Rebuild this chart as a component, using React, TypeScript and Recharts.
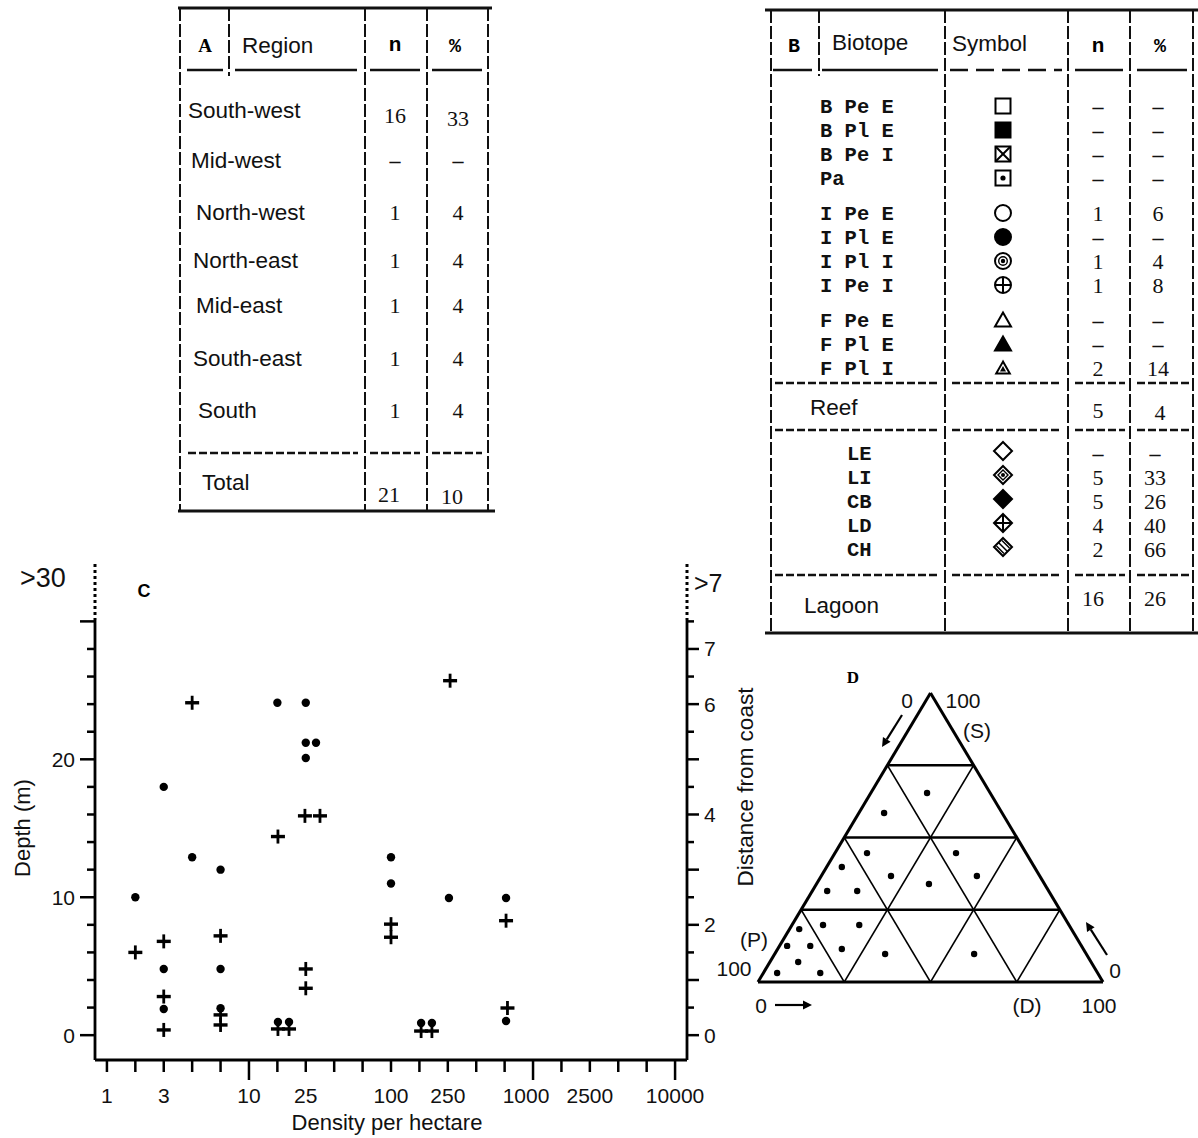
import React from 'react';
import { ScatterChart, Scatter, XAxis, YAxis, ReferenceLine } from 'recharts';

const SANS = '"Liberation Sans", Arial, sans-serif';
const SERIF = '"Liberation Serif", "Times New Roman", serif';
const MONO = '"Liberation Mono", "Courier New", monospace';

// ---------------- Table A data ----------------
const regionNames = ['South-west', 'Mid-west', 'North-west', 'North-east', 'Mid-east', 'South-east', 'South'];
const regionN = ['16', '–', '1', '1', '1', '1', '1'];
const regionPct = ['33', '–', '4', '4', '4', '4', '4'];
const regionTotal = ['Total', '21', '10'];

// ---------------- Table B data ----------------
const biotopeCodes = ['B Pe E', 'B Pl E', 'B Pe I', 'Pa', 'I Pe E', 'I Pl E', 'I Pl I', 'I Pe I', 'F Pe E', 'F Pl E', 'F Pl I'];
const biotopeSymbols = ['sqOpen', 'sqFill', 'sqCross', 'sqDot', 'ciOpen', 'ciFill', 'ciDot', 'ciPlus', 'trOpen', 'trFill', 'trDot'];
const biotopeN = ['–', '–', '–', '–', '1', '–', '1', '1', '–', '–', '2'];
const biotopePct = ['–', '–', '–', '–', '6', '–', '4', '8', '–', '–', '14'];
const reefRow = ['Reef', '5', '4'];
const lagoonCodes = ['LE', 'LI', 'CB', 'LD', 'CH'];
const lagoonSymbols = ['diOpen', 'diDot', 'diFill', 'diPlus', 'diHatch'];
const lagoonN = ['–', '5', '5', '4', '2'];
const lagoonPct = ['–', '33', '26', '40', '66'];
const lagoonRow = ['Lagoon', '16', '26'];

// ---------------- Chart C data ----------------
// x = position of the density class on the (ordinal) density axis
const densityClassIndex = [0, 2, 5, 7, 10, 12, 15, 17, 20];
const densityClassLabel = ['1', '3', '10', '25', '100', '250', '1000', '2500', '10000'];
const densityLongTicks = [5, 15, 20];
const depthLabels = [0, 10, 20];
const distanceLabels = [0, 2, 4, 6, 7];

const dotX = [1, 2, 2, 2, 3, 4, 4, 4, 6, 7, 7, 7.36, 7, 6.02, 6.41, 10, 10, 11.06, 11.44, 12.04, 14.05, 14.05];
const dotDepth = [10.0, 18.0, 4.8, 1.9, 12.9, 12.0, 4.8, 1.95, 24.1, 24.1, 21.2, 21.2, 20.1, 0.95, 0.95, 12.9, 11.0, 0.88, 0.88, 9.95, 9.95, 1.03];

const plusX = [1, 2, 2, 2, 3, 4, 4, 4, 6.02, 6.02, 6.41, 7, 7, 6.97, 7.5, 10, 10, 11.06, 11.44, 12.08, 14.05, 14.1];
const plusDepth = [6.0, 6.8, 2.8, 0.38, 24.1, 7.2, 1.47, 0.74, 14.4, 0.45, 0.45, 4.8, 3.4, 15.9, 15.9, 8.05, 7.1, 0.3, 0.3, 25.7, 8.3, 1.97];

// ---------------- Chart D data (ternary, %) ----------------
const triS = [65.4, 58.5, 44.6, 44.6, 39.8, 36.7, 36.7, 33.9, 31.5, 31.5, 18.3, 19.7, 19.7, 12.5, 12.5, 11.4, 6.9, 9.7, 9.7, 3.1, 3.1];
const triD = [16.3, 7.3, 9.3, 35.1, 4.4, 20.2, 45.1, 32.6, 4.3, 13.0, 2.8, 9.0, 19.5, 2.2, 8.9, 18.6, 8.2, 32.0, 57.8, 4.0, 16.5];
const triGrid = [25, 50, 75];

const dotData = dotX.map((x, i) => ({ x, y: dotDepth[i] }));
const plusData = plusX.map((x, i) => ({ x, y: plusDepth[i] }));
const triData = triS.map((s, i) => ({ x: triD[i] + s / 2, y: s }));
const xTicks = Array.from({ length: 21 }, (_, i) => i);
const leftTicks = Array.from({ length: 16 }, (_, i) => i * 2);
const rightTicks = Array.from({ length: 16 }, (_, i) => i * 0.5);

// ---------------- helpers ----------------
const VDash = ({ x, y1, y2 }: any) => (
  <line x1={x} x2={x} y1={y1} y2={y2} stroke="#111" strokeWidth={2} strokeDasharray="13 3" />
);
const HSeg = ({ x1, x2, y, dash, w }: any) => (
  <line x1={x1} x2={x2} y1={y} y2={y} stroke="#111" strokeWidth={w || 2.5} strokeDasharray={dash} />
);

function BioSymbol({ kind, cx, cy }: any) {
  const st = { stroke: '#000', strokeWidth: 2, fill: 'none' } as any;
  const h = 7.5;
  const sq = (fill?: string) => <rect x={cx - h} y={cy - h} width={2 * h} height={2 * h} {...st} fill={fill || 'none'} />;
  const ci = (fill?: string) => <circle cx={cx} cy={cy} r={8} {...st} fill={fill || 'none'} />;
  const tri = (fill?: string, k = 1) => (
    <polygon points={`${cx},${cy - 7.5 * k} ${cx - 8 * k},${cy + 6.5 * k} ${cx + 8 * k},${cy + 6.5 * k}`} {...st} fill={fill || 'none'} />
  );
  const di = (fill?: string) => (
    <polygon points={`${cx},${cy - 9} ${cx + 9},${cy} ${cx},${cy + 9} ${cx - 9},${cy}`} {...st} fill={fill || 'none'} />
  );
  switch (kind) {
    case 'sqOpen': return sq();
    case 'sqFill': return sq('#000');
    case 'sqCross': return <g>{sq()}<line x1={cx - h} y1={cy - h} x2={cx + h} y2={cy + h} {...st} /><line x1={cx + h} y1={cy - h} x2={cx - h} y2={cy + h} {...st} /></g>;
    case 'sqDot': return <g>{sq()}<circle cx={cx} cy={cy} r={2.6} fill="#000" /></g>;
    case 'ciOpen': return ci();
    case 'ciFill': return ci('#000');
    case 'ciDot': return <g>{ci()}<circle cx={cx} cy={cy} r={4.3} {...st} strokeWidth={1.4} /><circle cx={cx} cy={cy} r={2.2} fill="#000" /></g>;
    case 'ciPlus': return <g>{ci()}<line x1={cx - 8} x2={cx + 8} y1={cy} y2={cy} {...st} /><line x1={cx} x2={cx} y1={cy - 8} y2={cy + 8} {...st} /></g>;
    case 'trOpen': return tri();
    case 'trFill': return tri('#000');
    case 'trDot': return <g>{tri(undefined, 0.85)}<polygon points={`${cx},${cy - 2} ${cx - 3},${cy + 3.5} ${cx + 3},${cy + 3.5}`} fill="#000" /></g>;
    case 'diOpen': return di();
    case 'diDot': return <g>{di()}<polygon points={`${cx},${cy - 5} ${cx + 5},${cy} ${cx},${cy + 5} ${cx - 5},${cy}`} {...st} strokeWidth={1.4} /><circle cx={cx} cy={cy} r={2} fill="#000" /></g>;
    case 'diFill': return di('#000');
    case 'diPlus': return <g>{di()}<line x1={cx - 9} x2={cx + 9} y1={cy} y2={cy} {...st} /><line x1={cx} x2={cx} y1={cy - 9} y2={cy + 9} {...st} /></g>;
    case 'diHatch': return <g>{di()}<line x1={cx - 4.5} y1={cy - 4.5} x2={cx + 4.5} y2={cy + 4.5} {...st} strokeWidth={1.5} /><line x1={cx - 6.5} y1={cy - 1} x2={cx + 1} y2={cy + 6.5} {...st} strokeWidth={1.5} /><line x1={cx - 1} y1={cy - 6.5} x2={cx + 6.5} y2={cy + 1} {...st} strokeWidth={1.5} /></g>;
    default: return null;
  }
}

// ---------------- Table A ----------------
const regionRowY = [110, 160, 212, 260, 305, 358, 410];
const regionIndent = [188, 191, 196, 193, 196, 193, 198];

function TableA() {
  const txt = { fontFamily: SANS, fontSize: 22.5, fill: '#111' } as any;
  const num = { fontFamily: SERIF, fontSize: 22, fill: '#111', textAnchor: 'middle' } as any;
  const dash = { fontFamily: SERIF, fontSize: 22, fill: '#111', textAnchor: 'middle', fontWeight: 'bold' } as any;
  return (
    <g>
      <HSeg x1={178} x2={492} y={8} w={3} />
      <HSeg x1={178} x2={495} y={511} w={3.2} />
      <VDash x={180} y1={8} y2={511} />
      <VDash x={229} y1={8} y2={76} />
      <VDash x={365} y1={8} y2={511} />
      <VDash x={427} y1={8} y2={511} />
      <VDash x={488} y1={8} y2={511} />
      <HSeg x1={187} x2={223} y={70} />
      <HSeg x1={235} x2={357} y={70} />
      <HSeg x1={370} x2={420} y={70} />
      <HSeg x1={432} x2={482} y={70} />
      <HSeg x1={188} x2={358} y={453} dash="8 3" />
      <HSeg x1={370} x2={420} y={453} dash="8 3" />
      <HSeg x1={432} x2={482} y={453} dash="8 3" />
      <text x={205} y={52} textAnchor="middle" fontFamily={SERIF} fontWeight="bold" fontSize={19}>A</text>
      <text x={242} y={53} {...txt}>Region</text>
      <text x={395} y={51} textAnchor="middle" fontFamily={MONO} fontWeight="bold" fontSize={21}>n</text>
      <text x={455} y={52} textAnchor="middle" fontFamily={MONO} fontWeight="bold" fontSize={20}>%</text>
      {regionNames.map((r, i) => (
        <g key={r}>
          <text x={regionIndent[i]} y={regionRowY[i] + 8} {...txt}>{r}</text>
          <text x={395} y={regionRowY[i] + (i === 0 ? 13 : 8)} {...(regionN[i] === '–' ? dash : num)}>{regionN[i]}</text>
          <text x={458} y={regionRowY[i] + (i === 0 ? 16 : 8)} {...(regionPct[i] === '–' ? dash : num)}>{regionPct[i]}</text>
        </g>
      ))}
      <text x={202} y={490} {...txt}>{regionTotal[0]}</text>
      <text x={389} y={502} {...num}>{regionTotal[1]}</text>
      <text x={452} y={504} {...num}>{regionTotal[2]}</text>
    </g>
  );
}

// ---------------- Table B ----------------
const biotopeRowY = [106, 130, 154, 178, 213, 237, 261, 285, 320, 344, 368];
const lagoonRowY = [453, 477, 501, 525, 549];

function TableB() {
  const txt = { fontFamily: SANS, fontSize: 22.5, fill: '#111' } as any;
  const mono = { fontFamily: MONO, fontSize: 20.5, fill: '#111', fontWeight: 'bold' } as any;
  const num = { fontFamily: SERIF, fontSize: 22, fill: '#111', textAnchor: 'middle' } as any;
  const dash = { fontFamily: SERIF, fontSize: 22, fill: '#111', textAnchor: 'middle', fontWeight: 'bold' } as any;
  const seps = [383, 430, 575];
  return (
    <g>
      <HSeg x1={765} x2={1198} y={10} w={3} />
      <HSeg x1={765} x2={1198} y={633} w={3.2} />
      <VDash x={771} y1={10} y2={633} />
      <VDash x={819} y1={10} y2={76} />
      <VDash x={945} y1={10} y2={633} />
      <VDash x={1068} y1={10} y2={633} />
      <VDash x={1130} y1={10} y2={633} />
      <VDash x={1193} y1={10} y2={633} />
      <HSeg x1={773} x2={812} y={70} />
      <HSeg x1={822} x2={938} y={70} />
      <HSeg x1={950} x2={1062} y={70} dash="18 8" />
      <HSeg x1={1075} x2={1123} y={70} />
      <HSeg x1={1137} x2={1187} y={70} />
      {seps.map((y) => (
        <g key={y}>
          <HSeg x1={775} x2={938} y={y} dash="8 3" />
          <HSeg x1={952} x2={1062} y={y} dash="8 3" />
          <HSeg x1={1075} x2={1125} y={y} dash="8 3" />
          <HSeg x1={1137} x2={1190} y={y} dash="8 3" />
        </g>
      ))}
      <text x={794} y={52} textAnchor="middle" fontFamily={MONO} fontWeight="bold" fontSize={20}>B</text>
      <text x={832} y={50} {...txt}>Biotope</text>
      <text x={952} y={51} {...txt}>Symbol</text>
      <text x={1098} y={52} textAnchor="middle" fontFamily={MONO} fontWeight="bold" fontSize={21}>n</text>
      <text x={1160} y={52} textAnchor="middle" fontFamily={MONO} fontWeight="bold" fontSize={20}>%</text>
      {biotopeCodes.map((c, i) => (
        <g key={c}>
          <text x={820} y={biotopeRowY[i] + 7} {...mono} style={{ whiteSpace: 'pre' }}>{c}</text>
          <BioSymbol kind={biotopeSymbols[i]} cx={1003} cy={biotopeRowY[i]} />
          <text x={1098} y={biotopeRowY[i] + 8} {...(biotopeN[i] === '–' ? dash : num)}>{biotopeN[i]}</text>
          <text x={1158} y={biotopeRowY[i] + 8} {...(biotopePct[i] === '–' ? dash : num)}>{biotopePct[i]}</text>
        </g>
      ))}
      <text x={810} y={415} {...txt}>{reefRow[0]}</text>
      <text x={1098} y={418} {...num}>{reefRow[1]}</text>
      <text x={1160} y={420} {...num}>{reefRow[2]}</text>
      {lagoonCodes.map((c, i) => (
        <g key={c}>
          <text x={847} y={lagoonRowY[i] + 7} {...mono}>{c}</text>
          <BioSymbol kind={lagoonSymbols[i]} cx={1003} cy={lagoonRowY[i] - 2} />
          <text x={1098} y={lagoonRowY[i] + 8} {...(lagoonN[i] === '–' ? dash : num)}>{lagoonN[i]}</text>
          <text x={1155} y={lagoonRowY[i] + 8} {...(lagoonPct[i] === '–' ? dash : num)}>{lagoonPct[i]}</text>
        </g>
      ))}
      <text x={804} y={613} {...txt}>{lagoonRow[0]}</text>
      <text x={1093} y={606} {...num}>{lagoonRow[1]}</text>
      <text x={1155} y={606} {...num}>{lagoonRow[2]}</text>
    </g>
  );
}

// ---------------- Annotations (titles, panel letters) ----------------
const Arrow = ({ x1, y1, x2, y2 }: any) => {
  const a = Math.atan2(y2 - y1, x2 - x1);
  const L = 9, W = 4.5;
  const bx = x2 - L * Math.cos(a), by = y2 - L * Math.sin(a);
  const px = -Math.sin(a) * W, py = Math.cos(a) * W;
  return (
    <g>
      <line x1={x1} y1={y1} x2={bx} y2={by} stroke="#000" strokeWidth={2.2} />
      <polygon points={`${x2},${y2} ${bx + px},${by + py} ${bx - px},${by - py}`} fill="#000" />
    </g>
  );
};

function Annotations() {
  const let_ = { fontFamily: SANS, fontSize: 21, fill: '#111' } as any;
  return (
    <g>
      {/* panel C */}
      <line x1={95} x2={95} y1={564} y2={620} stroke="#000" strokeWidth={3} strokeDasharray="3 3" />
      <line x1={687} x2={687} y1={564} y2={620} stroke="#000" strokeWidth={3} strokeDasharray="3 3" />
      <text x={20} y={587} fontFamily={SANS} fontSize={27} fill="#111">{'>30'}</text>
      <text x={694} y={592} fontFamily={SANS} fontSize={25} fill="#111">{'>7'}</text>
      <text x={144} y={597} textAnchor="middle" fontFamily={SANS} fontWeight="bold" fontSize={18}>C</text>
      <text x={30} y={828} transform="rotate(-90 30 828)" textAnchor="middle" fontFamily={SANS} fontSize={22} fill="#111">Depth (m)</text>
      <text x={387} y={1130} textAnchor="middle" fontFamily={SANS} fontSize={22} fill="#111">Density per hectare</text>
      <text x={753} y={787} transform="rotate(-90 753 787)" textAnchor="middle" fontFamily={SANS} fontSize={22.5} fill="#111">Distance from coast</text>
      {/* panel D */}
      <text x={853} y={683} textAnchor="middle" fontFamily={SERIF} fontWeight="bold" fontSize={17}>D</text>
      <text x={907} y={708} textAnchor="middle" {...let_}>0</text>
      <text x={963} y={708} textAnchor="middle" {...let_}>100</text>
      <text x={977} y={738} textAnchor="middle" {...let_}>(S)</text>
      <Arrow x1={902} y1={715} x2={882} y2={747} />
      <text x={754} y={947} textAnchor="middle" {...let_}>(P)</text>
      <text x={734} y={976} textAnchor="middle" {...let_}>100</text>
      <text x={761} y={1013} textAnchor="middle" {...let_}>0</text>
      <Arrow x1={775} y1={1005} x2={812} y2={1005} />
      <text x={1027} y={1013} textAnchor="middle" {...let_}>(D)</text>
      <text x={1099} y={1013} textAnchor="middle" {...let_}>100</text>
      <text x={1115} y={978} textAnchor="middle" {...let_}>0</text>
      <Arrow x1={1107} y1={955} x2={1086} y2={922} />
    </g>
  );
}

// ---------------- Chart C ----------------
const DotShape = (p: any) => <circle cx={p.cx} cy={p.cy} r={4.2} fill="#000" />;
const PlusShape = (p: any) => (
  <g>
    <rect x={p.cx - 7} y={p.cy - 1.7} width={14} height={3.4} fill="#000" />
    <rect x={p.cx - 1.4} y={p.cy - 7} width={2.8} height={14} fill="#000" />
  </g>
);

const XTick = (p: any) => {
  const { x, y, payload } = p;
  const v = payload.value;
  const li = densityClassIndex.indexOf(v);
  const long = densityLongTicks.includes(v);
  return (
    <g>
      <line x1={x} x2={x} y1={y} y2={y + (long ? 20 : 12)} stroke="#000" strokeWidth={2.5} />
      {li >= 0 && (
        <text x={x + (v === 15 ? -7 : 0)} y={y + 43} textAnchor="middle" fontFamily={SANS} fontSize={21} fill="#111">
          {densityClassLabel[li]}
        </text>
      )}
    </g>
  );
};

const LeftTick = (p: any) => {
  const { x, y, payload } = p;
  const v = payload.value;
  const major = v % 10 === 0;
  return (
    <g>
      <line x1={x - (major ? 15 : 8)} x2={x} y1={y} y2={y} stroke="#000" strokeWidth={2.5} />
      {depthLabels.includes(v) && (
        <text x={x - 20} y={y + 7.5} textAnchor="end" fontFamily={SANS} fontSize={21} fill="#111">{v}</text>
      )}
    </g>
  );
};

const RightTick = (p: any) => {
  const { x, y, payload } = p;
  const v = payload.value;
  const major = Number.isInteger(v);
  return (
    <g>
      <line x1={x} x2={x + (major ? 12 : 7)} y1={y} y2={y} stroke="#000" strokeWidth={2.5} />
      {distanceLabels.includes(v) && (
        <text x={x + 17} y={y + 7.5} textAnchor="start" fontFamily={SANS} fontSize={21} fill="#111">{v}</text>
      )}
    </g>
  );
};

function DepthChart() {
  const axisLine = { stroke: '#000', strokeWidth: 2.8 };
  return (
    <ScatterChart width={770} height={598} margin={{ top: 80, right: 23, bottom: 28, left: 35 }}>
      <XAxis type="number" dataKey="x" domain={[-0.42, 20.42]} ticks={xTicks} interval={0} allowDataOverflow
        tick={XTick} tickLine={false} tickSize={0} tickMargin={0} axisLine={axisLine} height={50} />
      <YAxis yAxisId="l" type="number" dataKey="y" domain={[-1.8, 30.1]} ticks={leftTicks} interval={0} allowDataOverflow
        tick={LeftTick} tickLine={false} tickSize={0} tickMargin={0} axisLine={axisLine} width={60} />
      <YAxis yAxisId="r" orientation="right" type="number" domain={[-0.45, 7.525]} ticks={rightTicks} interval={0} allowDataOverflow
        tick={RightTick} tickLine={false} tickSize={0} tickMargin={0} axisLine={axisLine} width={60} />
      <Scatter yAxisId="l" data={dotData} shape={DotShape} isAnimationActive={false} />
      <Scatter yAxisId="l" data={plusData} shape={PlusShape} isAnimationActive={false} />
    </ScatterChart>
  );
}

// ---------------- Chart D (ternary) ----------------
const SmallDot = (p: any) => <circle cx={p.cx} cy={p.cy} r={3.2} fill="#000" />;

function TernaryChart() {
  const edge = { stroke: '#000', strokeWidth: 3, ifOverflow: 'visible' } as any;
  const hz = { stroke: '#000', strokeWidth: 2.6, ifOverflow: 'visible' } as any;
  const dg = { stroke: '#000', strokeWidth: 1.5, ifOverflow: 'visible' } as any;
  return (
    <ScatterChart width={463} height={420} margin={{ top: 53, right: 95, bottom: 78, left: 23 }}>
      <XAxis type="number" dataKey="x" domain={[0, 100]} hide allowDataOverflow />
      <YAxis type="number" dataKey="y" domain={[0, 100]} hide allowDataOverflow />
      <ReferenceLine segment={[{ x: 0, y: 0 }, { x: 100, y: 0 }]} {...edge} />
      <ReferenceLine segment={[{ x: 0, y: 0 }, { x: 50, y: 100 }]} {...edge} />
      <ReferenceLine segment={[{ x: 100, y: 0 }, { x: 50, y: 100 }]} {...edge} />
      {triGrid.map((g) => (
        <ReferenceLine key={'s' + g} segment={[{ x: g / 2, y: g }, { x: 100 - g / 2, y: g }]} {...hz} />
      ))}
      {triGrid.map((g) => (
        <ReferenceLine key={'d' + g} segment={[{ x: g, y: 0 }, { x: g + (100 - g) / 2, y: 100 - g }]} {...dg} />
      ))}
      {triGrid.map((g) => (
        <ReferenceLine key={'p' + g} segment={[{ x: 100 - g, y: 0 }, { x: (100 - g) / 2, y: 100 - g }]} {...dg} />
      ))}
      <Scatter data={triData} shape={SmallDot} isAnimationActive={false} />
    </ScatterChart>
  );
}

export default function App() {
  return (
    <div style={{ position: 'absolute', left: 0, top: 0, width: 1198, height: 1138, background: '#fff', overflow: 'hidden' }}>
      <svg width={1198} height={1138} style={{ position: 'absolute', left: 0, top: 0 }}>
        <TableA />
        <TableB />
        <Annotations />
      </svg>
      <div style={{ position: 'absolute', left: 0, top: 540 }}>
        <DepthChart />
      </div>
      <div style={{ position: 'absolute', left: 735, top: 640 }}>
        <TernaryChart />
      </div>
    </div>
  );
}
